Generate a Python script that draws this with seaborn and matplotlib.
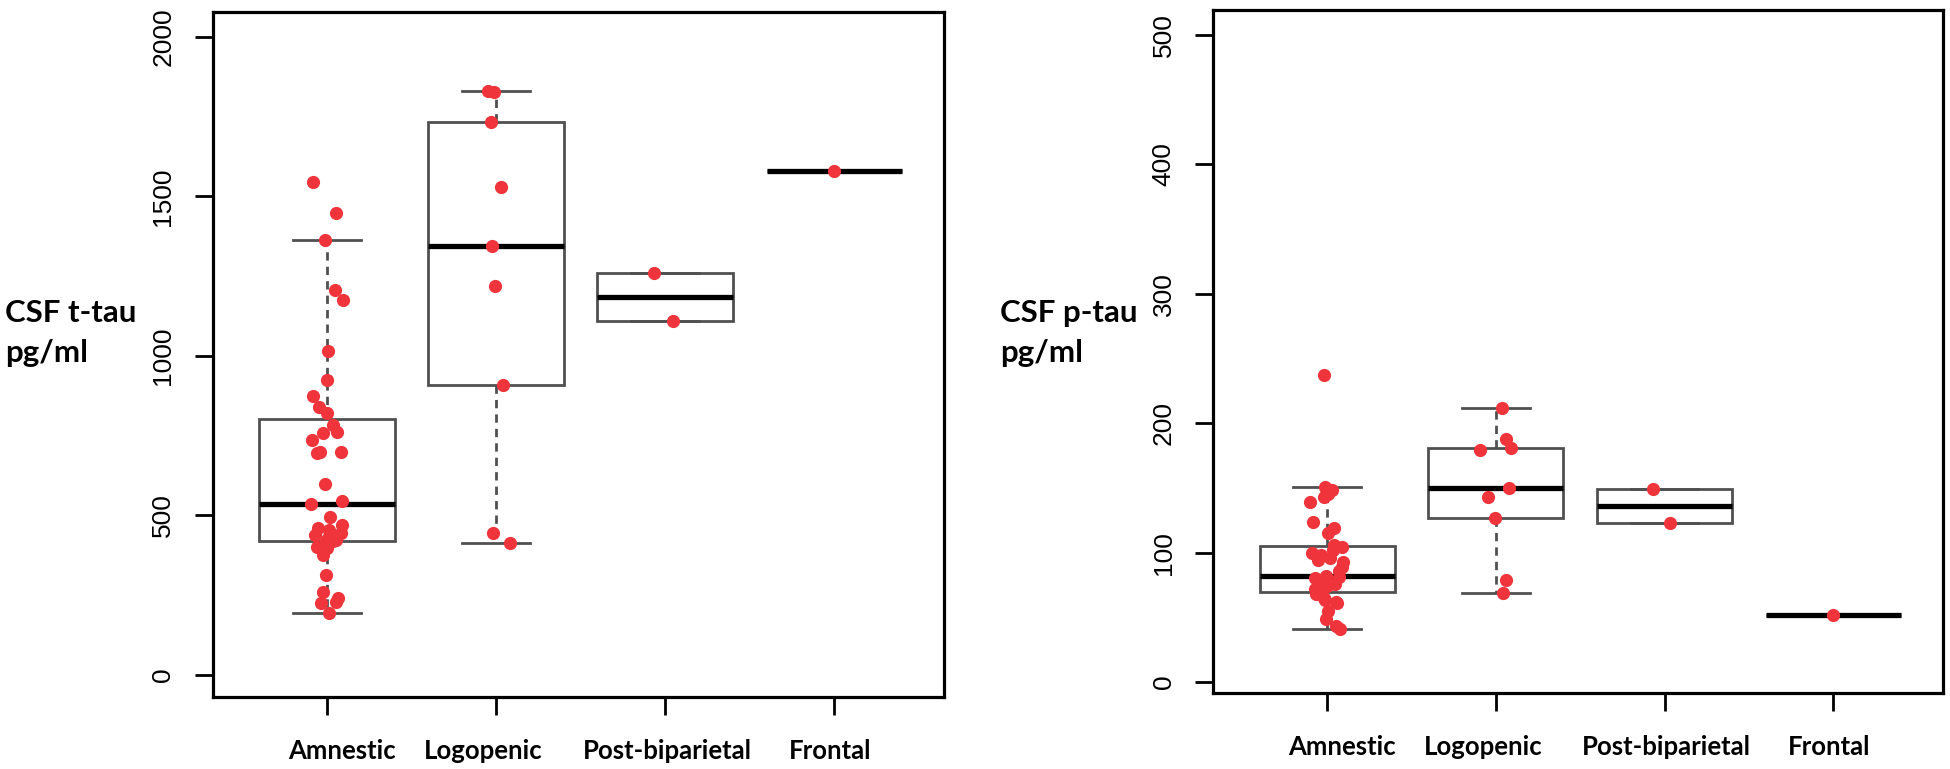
import numpy as np
import pandas as pd
import matplotlib
matplotlib.use("Agg")
import matplotlib.pyplot as plt
import matplotlib.cbook as cbook
import matplotlib.transforms as mtransforms
import seaborn as sns

# ---------------- data ----------------
categories = ["Amnestic", "Logopenic", "Post-biparietal", "Frontal"]

ttau_amnestic = [1546, 1447, 1364, 1207, 1176, 1014, 925, 873, 841, 821,
                 784, 763, 759, 737, 699, 699, 696, 598, 546, 536,
                 496, 470, 460, 455, 446, 440, 429, 423, 421, 419,
                 402, 398, 376, 313, 261, 241, 230, 225, 195]
ttau_logopenic = [1831, 1828, 1733, 1531, 1345, 1219, 909, 446, 413]
ttau_postbiparietal = [1259, 1108]
ttau_frontal = [1580]

ptau_amnestic = [237, 151, 148, 145, 143, 139, 124, 119, 115, 106,
                 104, 102, 100, 98, 96, 94, 93, 89, 86, 82,
                 81, 80, 79, 77, 76, 74, 72, 71, 70, 69,
                 68, 65, 63, 62, 61, 55, 49, 43, 41]
ptau_logopenic = [212, 188, 181, 179, 150, 143, 127, 79, 69]
ptau_postbiparietal = [149, 123]
ptau_frontal = [52]

ttau_label = "CSF t-tau\npg/ml"
ptau_label = "CSF p-tau\npg/ml"
ttau_ticks = [0, 500, 1000, 1500, 2000]
ptau_ticks = [0, 100, 200, 300, 400, 500]

# ---------------- R-style (Tukey hinge) box statistics ----------------
_mpl_boxplot_stats = cbook.boxplot_stats


def _fivenum(x):
    x = np.sort(np.asarray(x, float))
    n = len(x)
    n4 = np.floor((n + 3) / 2) / 2
    d = np.array([1, n4, (n + 1) / 2, n + 1 - n4, n]) - 1
    return 0.5 * (x[np.floor(d).astype(int)] + x[np.ceil(d).astype(int)])


def _as_datasets(X):
    try:
        arr = np.asarray(X, float)
        if arr.ndim == 1:
            return [arr]
        if arr.ndim == 2:
            return [row for row in arr.T]
    except (ValueError, TypeError):
        pass
    return [np.asarray(v, float).ravel() for v in X]


def r_boxplot_stats(X, whis=1.5, bootstrap=None, labels=None, autorange=False):
    stats = _mpl_boxplot_stats(X, whis=whis, bootstrap=bootstrap,
                               labels=labels, autorange=autorange)
    datasets = _as_datasets(X)
    if len(datasets) != len(stats):
        return stats
    w = whis if np.isscalar(whis) else 1.5
    for st, x in zip(stats, datasets):
        x = x[np.isfinite(x)]
        if not x.size:
            continue
        lo, h1, med, h2, hi = _fivenum(x)
        iqr = h2 - h1
        inside = x[(x >= h1 - w * iqr) & (x <= h2 + w * iqr)]
        st.update(q1=h1, med=med, q3=h2, iqr=iqr,
                  whislo=inside.min(), whishi=inside.max(),
                  fliers=x[(x < inside.min()) | (x > inside.max())])
    return stats


cbook.boxplot_stats = r_boxplot_stats

# ---------------- figure ----------------
plt.rcParams["font.family"] = ["Liberation Sans", "DejaVu Sans"]
np.random.seed(7)

fig = plt.figure(figsize=(19.5, 7.69), dpi=100)
ax1 = fig.add_axes([0.1092, 0.0936, 0.3749, 0.8908])
ax2 = fig.add_axes([0.6221, 0.0988, 0.3744, 0.8882])

RED = "#EF343C"
EDGE = "#505050"
LABEL_SHIFT_PX = [15, -13, 2, -4]   # horizontal nudge of the category labels


def panel(ax, groups, ticks, ylim):
    df = pd.DataFrame({
        "group": np.repeat(categories, [len(g) for g in groups]),
        "value": np.concatenate([np.asarray(g, float) for g in groups]),
    })
    sns.boxplot(data=df, x="group", y="value", order=categories, ax=ax,
                width=0.8, color="white", linecolor=EDGE, linewidth=2.0,
                showfliers=False,
                whiskerprops=dict(linestyle=(0, (3, 2.2)), linewidth=2.0),
                capprops=dict(linewidth=2.0),
                medianprops=dict(color="black", linewidth=3.8))
    sns.stripplot(data=df, x="group", y="value", order=categories, ax=ax,
                  jitter=0.1, color=RED, size=9.5, linewidth=0, zorder=4)
    ax.set_xlim(-0.675, 3.65)
    ax.set_ylim(*ylim)
    ax.set_yticks(ticks)
    ax.set_yticklabels([str(t) for t in ticks])
    ax.set_xlabel("")
    ax.set_ylabel("")
    for s in ax.spines.values():
        s.set_visible(True)
        s.set_linewidth(2.3)
        s.set_color("black")
    ax.tick_params(axis="y", length=13, width=2, labelsize=19, pad=14,
                   labelrotation=90, color="black")
    for lab in ax.get_yticklabels():
        lab.set_va("center")
    ax.tick_params(axis="x", length=13, width=2, pad=17, color="black")
    for lab, dx in zip(ax.get_xticklabels(), LABEL_SHIFT_PX):
        lab.set_fontfamily(["Lato", "DejaVu Sans"])
        lab.set_fontweight("bold")
        lab.set_fontsize(18.5)
        lab.set_transform(lab.get_transform() +
                          mtransforms.ScaledTranslation(dx / 100, 0, fig.dpi_scale_trans))
    ax.set_facecolor("white")


panel(ax1, [ttau_amnestic, ttau_logopenic, ttau_postbiparietal, ttau_frontal],
      ttau_ticks, (-69, 2078))
panel(ax2, [ptau_amnestic, ptau_logopenic, ptau_postbiparietal, ptau_frontal],
      ptau_ticks, (-8.5, 519.3))

fig.text(5 / 1950, 0.567, ttau_label, ha="left", va="center",
         fontfamily=["Lato", "DejaVu Sans"], fontweight="bold", fontsize=22.5,
         linespacing=1.55)
fig.text(1000 / 1950, 0.567, ptau_label, ha="left", va="center",
         fontfamily=["Lato", "DejaVu Sans"], fontweight="bold", fontsize=22.5,
         linespacing=1.55)

fig.savefig("out.png", dpi=100, facecolor="white")
